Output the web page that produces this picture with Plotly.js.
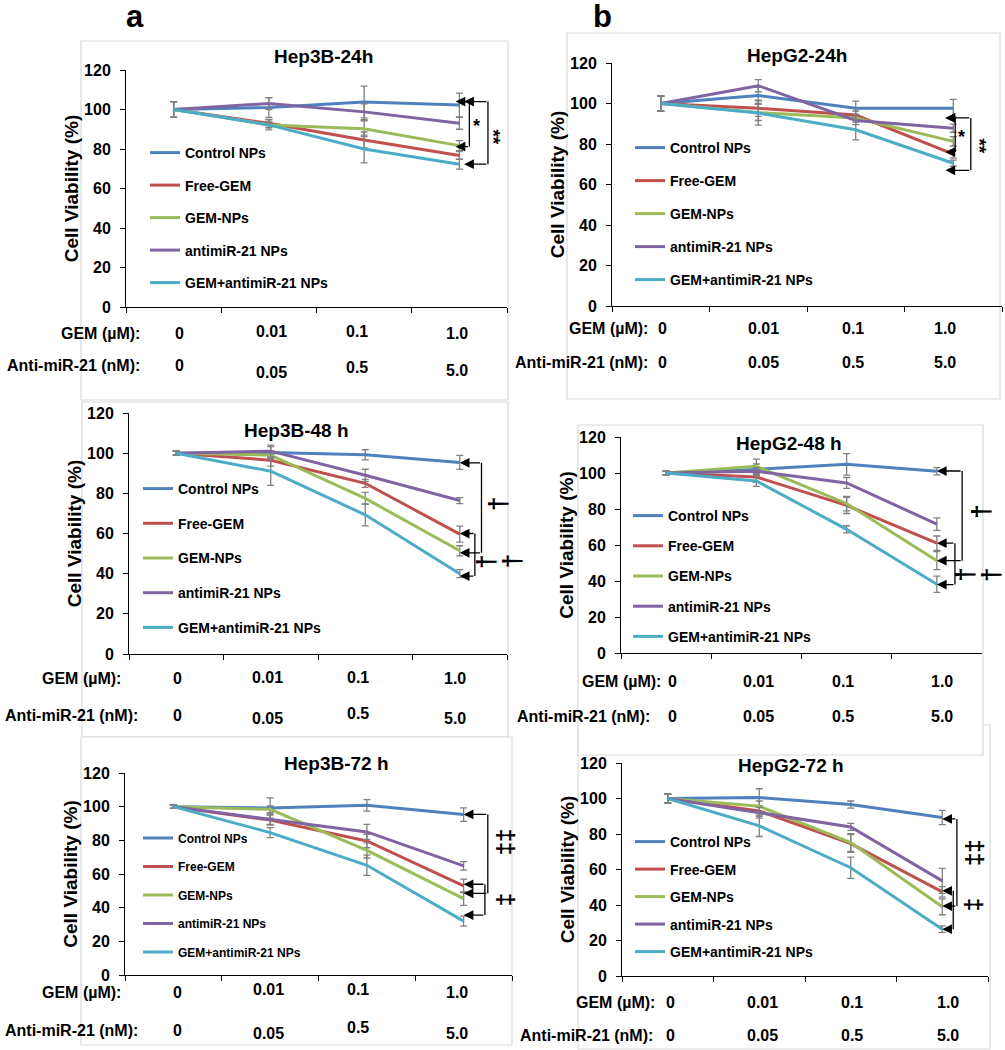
<!DOCTYPE html>
<html><head><meta charset="utf-8">
<script src="https://cdn.plot.ly/plotly-3.0.1.min.js"></script>
<style>html,body{margin:0;padding:0;background:#fff}#chart{width:1005px;height:1050px}</style>
</head><body><div id="chart"></div>
<script>
// ---- data ----
const seriesNames = ['Control NPs','Free-GEM','GEM-NPs','antimiR-21 NPs','GEM+antimiR-21 NPs'];
const gemDoses = ['0','0.01','0.1','1.0'];
const antiDoses = ['0','0.05','0.5','5.0'];
const gemLabel = 'GEM (µM):';
const antiLabel = 'Anti-miR-21 (nM):';
const yTitle = 'Cell Viability (%)';

const hep3b24 = [[100,101,103.8,102.3],[100,93,84.6,76.7],[100,92.2,90.3,81.7],[100,103,98.8,93],[100,92.2,80,72.3]];
const hep3b24Err = [[4,5,8,6],[4,2,4,2],[4,1.5,4,2.5],[4,3,4,3],[4,2.5,7,2.5]];
const hepg224 = [[100,104,97.7,97.7],[100,97.6,94.3,75],[100,95.6,92.8,81.3],[100,108.8,91.6,87.8],[100,95.3,87,70.5]];
const hepg224Err = [[3.7,4,3.5,4.3],[3.7,4,2,2],[3.7,4,2,2.3],[3.7,3,2,2],[3.7,6,5,1.5]];
const hep3b48 = [[100,100.3,99.2,95.4],[100,96.5,85,59.7],[100,99,77.5,51.4],[100,101,89,76.4],[100,91,69.3,40]];
const hep3b48Err = [[1,3,2.5,3.5],[1,3,2,4],[1,2,3,2.5],[1,3,3,1.5],[1,7,5.5,2]];
const hepg248 = [[100,102,104.8,101],[100,97.8,82,61],[100,103.7,83,51.3],[100,101,94.5,71.6],[100,95.6,68.7,38.2]];
const hepg248Err = [[1,3,6,2],[1,3,4.5,4],[1,4,4,5],[1,2,3,3.5],[1,3,2,4.5]];
const hep3b72 = [[100,99.2,100.8,95.3],[100,92,79.6,53],[100,98.4,74,45.4],[100,92.5,85,64.8],[100,84.6,65.2,32]];
const hep3b72Err = [[1,6,3.4,4],[1,3,4,4],[1,2,4.5,4],[1,3,4.5,2.5],[1,3,6,3]];
const hepg272 = [[100,100.5,96.6,89.3],[100,93,74.6,47.4],[100,95.6,75.2,39],[100,92,84,53.6],[100,84.6,61,26.4]];
const hepg272Err = [[2.5,5,2,4],[2.5,3,5,3],[2.5,3,5,4.5],[2.5,3,2,7],[2.5,6,6,1.8]];

// ---- styles / layout ----
const seriesColors = ['#4F81BD','#C0504D','#9BBB59','#8064A2','#4BACC6'];
const FONT = 'Liberation Sans, Arial, sans-serif';
const W = 1005, H = 1050;
const px = v => v / W, py = v => 1 - v / H;

const panels = [
 {title:'Hep3B-24h', data:hep3b24, err:hep3b24Err, dom:[126,507,70,307], tpos:[323,57],
  leg:{left:145, top:137, gap:11.3, size:14}, box:[81,508,41,400],
  rows:{gemRight:142, antiRight:142, gemY:333, antiY:366, shifts:[6,3,-7,-2], gemJit:[0,-1,-2,0], antiJit:[0,6,1,4]},
  brackets:[{y1:104,y2:81.2,xv:3.105,tip:2.96},{y1:104,y2:72.3,xv:3.30,tip:3.05}],
  marks:[{t:'*',x:3.18,y:91.4,a:0,s:18},{t:'**',x:3.36,y:86,a:90,s:19}]},
 {title:'HepG2-24h', data:hepg224, err:hepg224Err, dom:[612,1002,63,306], tpos:[797,55],
  leg:{left:630, top:132, gap:11.8, size:14}, box:[567,1000,33,399],
  rows:{gemRight:650, antiRight:650, gemY:328, antiY:363, shifts:[2,5,-3,-8], gemJit:[0,0,0,0], antiJit:[0,0,0,0]},
  brackets:[{y1:92.9,y2:76,xv:3.02,tip:2.92},{y1:92.9,y2:67,xv:3.18,tip:2.92}],
  marks:[{t:'*',x:3.085,y:83.7,a:0,s:18},{t:'**',x:3.27,y:79,a:90,s:19}]},
 {title:'Hep3B-48 h', data:hep3b48, err:hep3b48Err, dom:[129,507,413,654], tpos:[296,431],
  leg:{left:138, top:473, gap:13.5, size:14}, box:[82,508,402,737],
  rows:{gemRight:123, antiRight:140, gemY:679, antiY:715, shifts:[1,-3,-7,-5], gemJit:[0,-2,-2,0], antiJit:[0,3,-2,3]},
  brackets:[{y1:95.2,y2:50.4,xv:3.23,tip:3.0},{y1:60,y2:38.8,xv:3.16,tip:3.0}],
  marks:[{t:'†',x:3.41,y:75,a:-90,s:26},{t:'†',x:3.27,y:46,a:-90,s:26},{t:'†',x:3.55,y:46,a:-90,s:26}]},
 {title:'HepG2-48 h', data:hepg248, err:hepg248Err, dom:[621,982,437,653], tpos:[789,443],
  leg:{left:628, top:500, gap:9, size:14}, box:[578,983,425,755],
  rows:{gemRight:663, antiRight:652, gemY:681, antiY:716, shifts:[6,2,-4,5], gemJit:[0,0,0,0], antiJit:[0,0,0,0]},
  brackets:[{y1:101.1,y2:51.3,xv:3.28,tip:3.0},{y1:61,y2:38,xv:3.2,tip:3.0}],
  marks:[{t:'†',x:3.48,y:78.6,a:-90,s:26},{t:'†',x:3.31,y:43.4,a:-90,s:26},{t:'†',x:3.6,y:43.4,a:-90,s:26}]},
 {title:'Hep3B-72 h', data:hep3b72, err:hep3b72Err, dom:[125,512,773,975], tpos:[336,763],
  leg:{left:138, top:823.5, gap:9.5, size:12}, box:[81,512,737,1045],
  rows:{gemRight:123, antiRight:140, gemY:992, antiY:1030, shifts:[4,-2,-9,-7], gemJit:[0,-3,-3,0], antiJit:[0,3,-3,3]},
  brackets:[{y1:95.4,y2:48.5,xv:3.25,tip:3.0},{y1:53.9,y2:35.6,xv:3.22,tip:3.0}],
  marks:[{t:'‡‡',x:3.43,y:79,a:-90,s:24},{t:'‡',x:3.43,y:44.5,a:-90,s:24}]},
 {title:'HepG2-72 h', data:hepg272, err:hepg272Err, dom:[622,988,763,976], tpos:[791,765],
  leg:{left:630, top:826, gap:6.3, size:14}, box:[578,990,725,1049],
  rows:{gemRight:657, antiRight:655, gemY:1002, antiY:1035, shifts:[3,3,1,6], gemJit:[0,0,0,0], antiJit:[0,0,0,0]},
  brackets:[{y1:88.5,y2:39.4,xv:3.16,tip:3.0},{y1:48,y2:26.4,xv:3.12,tip:3.0}],
  marks:[{t:'‡‡',x:3.36,y:69.4,a:-90,s:24},{t:'‡',x:3.34,y:40,a:-90,s:24}]}
];

const traces = [];
const layout = {
  width: W, height: H, margin:{l:0,r:0,t:0,b:0},
  paper_bgcolor:'#fff', plot_bgcolor:'rgba(0,0,0,0)',
  font:{family:FONT, color:'#000'},
  showlegend:true, annotations:[], shapes:[]
};

// panel frames (b-72h drawn under b-48h like the source composite)
const frameOrder = [0,1,2,5,3,4];
frameOrder.forEach(i => {
  const b = panels[i].box;
  layout.shapes.push({type:'rect', xref:'paper', yref:'paper', layer:'below',
    x0:px(b[0]), x1:px(b[1]), y0:py(b[3]), y1:py(b[2]),
    line:{color:'#d9d9d9', width:1.2}, fillcolor:'#ffffff'});
});

panels.forEach((p, i) => {
  const s = i === 0 ? '' : String(i + 1);
  const xa = 'x' + s, ya = 'y' + s, legName = 'legend' + s;
  const [x0, x1, y0, y1] = p.dom;
  const catW = (x1 - x0) / gemDoses.length;

  layout['xaxis' + s] = {domain:[px(x0), px(x1)], anchor:ya, type:'category',
    categoryorder:'array', categoryarray:gemDoses, range:[-0.5, 3.5],
    tickson:'boundaries', ticks:'outside', ticklen:5, tickwidth:1, tickcolor:'#000',
    showticklabels:false, showline:true, linecolor:'#000', linewidth:1,
    showgrid:false, zeroline:false, fixedrange:true};
  layout['yaxis' + s] = {domain:[py(y1), py(y0)], anchor:xa, range:[0, 120], dtick:20, tick0:0,
    ticks:'outside', ticklen:5, tickwidth:1, tickcolor:'#000', ticklabelstandoff:6,
    showline:true, linecolor:'#000', linewidth:1, showgrid:false, zeroline:false, fixedrange:true,
    tickfont:{family:FONT, size:16, weight:'bold', color:'#000'},
    title:{text:yTitle, font:{family:FONT, size:19, weight:'bold', color:'#000'}, standoff:0}};

  layout[legName] = {x:px(p.leg.left), y:py(p.leg.top), xanchor:'left', yanchor:'top',
    xref:'paper', yref:'paper', bgcolor:'rgba(0,0,0,0)', borderwidth:0,
    traceorder:'grouped', tracegroupgap:p.leg.gap, itemwidth:30, itemclick:false, itemdoubleclick:false,
    font:{family:FONT, size:p.leg.size, weight:'bold', color:'#000'}};

  p.data.forEach((vals, k) => {
    traces.push({type:'scatter', mode:'lines', x:gemDoses, y:vals, name:seriesNames[k],
      xaxis:xa, yaxis:ya, legend:legName, legendgroup:'p' + i + 's' + k,
      line:{color:seriesColors[k], width:3},
      error_y:{type:'data', array:p.err[k], visible:true, color:'#808080', thickness:1.3, width:3.5}});
  });

  // panel title
  layout.annotations.push({text:p.title, xref:'paper', yref:'paper', x:px(p.tpos[0]), y:py(p.tpos[1]),
    xanchor:'center', yanchor:'middle', showarrow:false,
    font:{family:FONT, size:19, weight:'bold', color:'#000'}});

  // dose rows under the x axis
  const r = p.rows;
  layout.annotations.push({text:gemLabel, xref:'paper', yref:'paper', x:px(r.gemRight), y:py(r.gemY),
    xanchor:'right', yanchor:'middle', showarrow:false, font:{family:FONT, size:16, weight:'bold'}});
  layout.annotations.push({text:antiLabel, xref:'paper', yref:'paper', x:px(r.antiRight), y:py(r.antiY),
    xanchor:'right', yanchor:'middle', showarrow:false, font:{family:FONT, size:16, weight:'bold'}});
  gemDoses.forEach((d, j) => {
    layout.annotations.push({text:d, xref:xa, yref:'paper', x:j, xshift:r.shifts[j],
      y:py(r.gemY + r.gemJit[j]), xanchor:'center', yanchor:'middle', showarrow:false,
      font:{family:FONT, size:16, weight:'bold'}});
  });
  antiDoses.forEach((d, j) => {
    layout.annotations.push({text:d, xref:xa, yref:'paper', x:j, xshift:r.shifts[j],
      y:py(r.antiY + r.antiJit[j]), xanchor:'center', yanchor:'middle', showarrow:false,
      font:{family:FONT, size:16, weight:'bold'}});
  });

  // significance brackets with arrow heads
  p.brackets.forEach(b => {
    layout.shapes.push({type:'line', xref:xa, yref:ya, x0:b.xv, x1:b.xv, y0:b.y1, y1:b.y2,
      line:{color:'#000', width:1.3}});
    [b.y1, b.y2].forEach(yy => {
      layout.annotations.push({text:'', xref:xa, yref:ya, x:b.tip, y:yy,
        axref:xa, ayref:ya, ax:b.xv, ay:yy, showarrow:true, arrowhead:2, arrowsize:1.5,
        arrowwidth:1.3, arrowcolor:'#000', standoff:0, startstandoff:0});
    });
  });
  // significance symbols (anchored on the last dose, shifted in pixels so they may sit past the axis end)
  p.marks.forEach(m => {
    layout.annotations.push({text:m.t, xref:xa, yref:ya, x:3, xshift:(m.x - 3) * catW, y:m.y, textangle:m.a,
      xanchor:'center', yanchor:'middle', showarrow:false,
      font:{family:FONT, size:m.s, weight:'bold', color:'#000'}});
  });
});

// panel letters
[['a',135,16],['b',602,16]].forEach(([t, x, y]) => {
  layout.annotations.push({text:t, xref:'paper', yref:'paper', x:px(x), y:py(y),
    xanchor:'center', yanchor:'middle', showarrow:false,
    font:{family:FONT, size:31, weight:'bold', color:'#000'}});
});

Plotly.newPlot('chart', traces, layout, {displayModeBar:false, staticPlot:true});
</script></body></html>
